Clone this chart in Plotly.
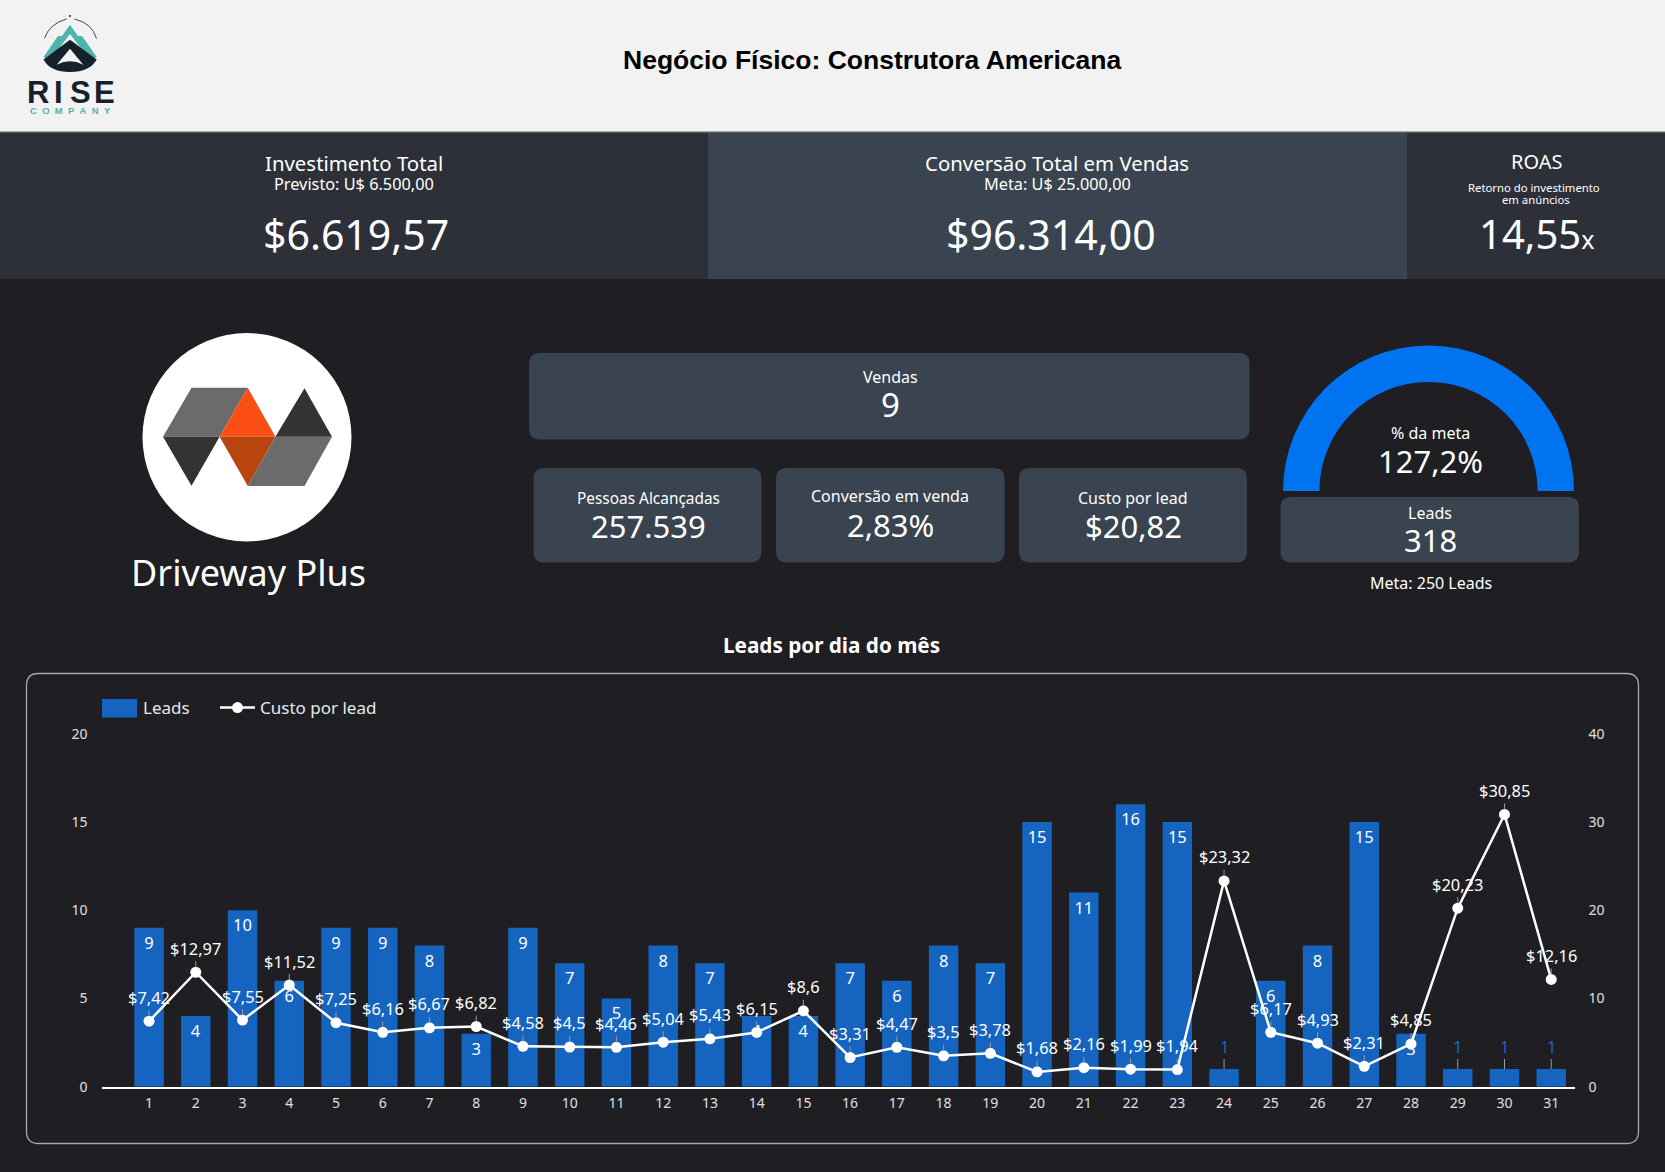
import plotly.graph_objects as go

W = 1665
H = 1172

days = list(range(1, 32))
leads = [9, 4, 10, 6, 9, 9, 8, 3, 9, 7, 5, 8, 7, 4, 4, 7, 6, 8, 7, 15, 11, 16, 15, 1, 6, 8, 15, 3, 1, 1, 1]
cost_per_lead = [7.42, 12.97, 7.55, 11.52, 7.25, 6.16, 6.67, 6.82, 4.58, 4.5, 4.46, 5.04, 5.43, 6.15, 8.6, 3.31,
                 4.47, 3.5, 3.78, 1.68, 2.16, 1.99, 1.94, 23.32, 6.17, 4.93, 2.31, 4.85, 20.23, 30.85, 12.16]
left_ticks = [0, 5, 10, 15, 20]
right_ticks = [0, 10, 20, 30, 40]
meta_pct = 127.2

BG = "#1e1e23"
PANEL_DARK = "#2d3039"
PANEL = "#3a4350"
BAR = "#1565c0"
FONT = "Noto Sans"


def px(x):
    return x / W


def py(y):
    return 1 - y / H


def rect(x0, y0, x1, y1, color):
    return dict(type="rect", xref="paper", yref="paper", x0=px(x0), x1=px(x1), y0=py(y0), y1=py(y1),
                fillcolor=color, line_width=0, layer="below")


def path(d, fill=None, line=None, width=0):
    # d is a list of (command, x, y, ...) in page pixels
    parts = []
    for seg in d:
        nums = seg[1:]
        coords = [f"{px(n) if i % 2 == 0 else py(n):.5f}" for i, n in enumerate(nums)]
        pairs = [coords[i] + "," + coords[i + 1] for i in range(0, len(coords), 2)]
        parts.append(seg[0] + " ".join(pairs))
    return dict(type="path", xref="paper", yref="paper", path=" ".join(parts), fillcolor=fill,
                line=dict(color=line, width=width), layer="below")


def poly(points, color):
    d = [("M",) + points[0]] + [("L",) + p for p in points[1:]] + [("Z",)]
    return path(d, fill=color, line=color, width=0)


def round_rect(x0, y0, x1, y1, r, fill=None, line=None, width=0):
    d = [("M", x0 + r, y0), ("L", x1 - r, y0), ("Q", x1, y0, x1, y0 + r), ("L", x1, y1 - r),
         ("Q", x1, y1, x1 - r, y1), ("L", x0 + r, y1), ("Q", x0, y1, x0, y1 - r), ("L", x0, y0 + r),
         ("Q", x0, y0, x0 + r, y0), ("Z",)]
    return path(d, fill=fill, line=line, width=width)


def label(x, y, text, size, color="#ffffff", family=FONT, bold=False):
    if bold:
        text = f"<b>{text}</b>"
    return dict(xref="paper", yref="paper", x=px(x), y=py(y), text=text, showarrow=False, xanchor="center",
                yanchor="middle", font=dict(family=family, size=size, color=color))


fig = go.Figure()

fig.add_trace(go.Bar(
    x=days, y=leads, name="Leads", width=0.63, marker=dict(color=BAR, line_width=0), legendwidth=67,
    text=[str(v) if v > 1 else "" for v in leads],
    textposition="inside", insidetextanchor="end", textangle=0,
    textfont=dict(family=FONT, size=16.5, color="#ffffff"),
    hoverinfo="skip",
))
fig.add_trace(go.Scatter(
    x=days, y=cost_per_lead, name="Custo por lead", yaxis="y2", mode="lines+markers",
    line=dict(color="#ffffff", width=2.5), marker=dict(color="#ffffff", size=11),
    hoverinfo="skip",
))
# meta gauge, full arc because the value is past 100%
fig.add_trace(go.Indicator(
    mode="gauge", value=meta_pct,
    domain=dict(x=[px(1283), px(1574)], y=[py(491), py(345.5)]),
    gauge=dict(axis=dict(range=[0, 100], visible=False), bar=dict(color="#0073f0", thickness=1, line_width=0),
               bgcolor="rgba(0,0,0,0)", borderwidth=0),
))

shapes = [
    rect(0, 0, W, 132, "#f2f2f2"),
    rect(0, 132, 708, 279, PANEL_DARK),
    rect(708, 132, 1407, 279, PANEL),
    rect(1407, 132, W, 279, PANEL_DARK),
    rect(0, 131.5, W, 133, "#565a63"),
    round_rect(529, 353, 1249.5, 439.5, 11, fill=PANEL),
    round_rect(533.5, 468, 761.5, 562.5, 11, fill=PANEL),
    round_rect(776, 468, 1004.5, 562.5, 11, fill=PANEL),
    round_rect(1019, 468, 1247, 562.5, 11, fill=PANEL),
    round_rect(1280.5, 497, 1579, 562.5, 11, fill=PANEL),
    round_rect(26.5, 673.5, 1638.5, 1143.5, 12, line="#a8a8aa", width=1.3),
    # legend swatch, the native one is too small
    dict(type="rect", xref="paper", yref="paper", x0=px(102), x1=px(137), y0=py(699), y1=py(717.5),
         fillcolor=BAR, line_width=0, layer="above"),
    # Driveway Plus logo
    dict(type="circle", xref="paper", yref="paper", x0=px(142.5), x1=px(351.5), y0=py(333), y1=py(541.5),
         fillcolor="#ffffff", line_width=0, layer="below"),
    poly([(191.5, 387.7), (247.8, 387.7), (219.6, 436.7), (163, 436.7)], "#6b6b6b"),
    poly([(247.8, 387.7), (275.4, 436.7), (219.6, 436.7)], "#fb4f14"),
    poly([(219.6, 436.7), (275.4, 436.7), (247.8, 486)], "#b8440f"),
    poly([(275.4, 436.7), (332, 436.7), (304.5, 486), (247.8, 486)], "#6b6b6b"),
    poly([(304.5, 388.3), (332, 436.7), (275.4, 436.7)], "#333333"),
    poly([(163, 436.7), (219.6, 436.7), (191.5, 485.7)], "#333333"),
    # Rise logo
    poly([(70, 24.7), (78, 36), (82, 36), (96.7, 57), (90, 60), (70, 34), (50, 60), (43.5, 57), (58, 36), (62, 36)],
         "#4fb3ae"),
    path([("M", 70, 39.7), ("L", 96.7, 59.5), ("Q", 90, 72, 70, 72), ("Q", 50, 72, 43.5, 59.5), ("Z",)],
         fill="#17212b", line="#17212b"),
    path([("M", 70, 48.7), ("L", 83.3, 64.7), ("Q", 70, 58, 56.7, 64.7), ("Z",)], fill="#f2f2f2", line="#f2f2f2"),
    path([("M", 44.5, 38.5), ("Q", 49, 24, 66.5, 19)], line="#444444", width=1),
    path([("M", 74.5, 19), ("Q", 92, 23, 96.5, 38.5)], line="#444444", width=1),
    dict(type="circle", xref="paper", yref="paper", x0=px(69), x1=px(71), y0=py(15), y1=py(17),
         fillcolor="#17212b", line_width=0, layer="below"),
]

annotations = [
    label(872, 60, "Negócio Físico: Construtora Americana", 26.5, "#000000", "Liberation Sans", True),
    label(38.3, 92.5, "R", 31, "#17212b", "Liberation Sans", True),
    label(59, 92.5, "I", 31, "#17212b", "Liberation Sans", True),
    label(80.7, 92.5, "S", 31, "#17212b", "Liberation Sans", True),
    label(104.3, 92.5, "E", 31, "#17212b", "Liberation Sans", True),
    label(70.5, 110.5, "C\u00a0\u00a0O\u00a0\u00a0M\u00a0\u00a0P\u00a0\u00a0A\u00a0\u00a0N\u00a0\u00a0Y", 9.5,
          "#4fb3ae", "Liberation Sans", True),
    label(353.5, 163, "Investimento Total", 20.4),
    label(353.5, 184, "Previsto: U$ 6.500,00", 16.3),
    label(355.5, 234, "$6.619,57", 41),
    label(1057, 163, "Conversão Total em Vendas", 20.4),
    label(1057.5, 184, "Meta: U$ 25.000,00", 16.3),
    label(1051, 234, "$96.314,00", 41),
    label(1536, 162, "ROAS", 20),
    label(1534, 188, "Retorno do investimento", 11.3),
    label(1535.5, 200, "em anúncios", 11.3),
    label(1536, 234, '14,55<span style="font-size:25px">x</span>', 40),
    label(248.5, 572.5, "Driveway Plus", 36),
    label(890.5, 377, "Vendas", 16),
    label(890.5, 404.5, "9", 33),
    label(648, 498, "Pessoas Alcançadas", 15.4),
    label(648, 526, "257.539", 31),
    label(890, 496, "Conversão em venda", 16),
    label(890, 524.5, "2,83%", 31),
    label(1133, 498, "Custo por lead", 16),
    label(1133, 525.5, "$20,82", 31),
    label(1430, 433, "% da meta", 16),
    label(1430, 461, "127,2%", 31),
    label(1430, 512.5, "Leads", 16),
    label(1430, 540, "318", 31),
    label(1431, 583, "Meta: 250 Leads", 16),
    label(831.5, 645.5, "Leads por dia do mês", 20.7, bold=True),
]

# point labels with the small leader line up to the text
for day, cost in zip(days, cost_per_lead):
    annotations.append(dict(
        x=day, y=cost, xref="x", yref="y2", text="$" + f"{cost:g}".replace(".", ","),
        showarrow=True, arrowhead=0, arrowwidth=1, arrowcolor="#9a9a9a", ax=0, ay=-24, standoff=5,
        font=dict(family=FONT, size=16.4, color="#ffffff"),
    ))
for day, lead in zip(days, leads):
    if lead == 1:
        annotations.append(dict(
            x=day, y=lead, xref="x", yref="y", text=str(lead),
            showarrow=True, arrowhead=0, arrowwidth=1, arrowcolor="#9a9a9a", ax=0, ay=-23,
            font=dict(family=FONT, size=16.5, color=BAR),
        ))

fig.update_layout(
    width=W, height=H, margin=dict(l=0, r=0, t=0, b=0, autoexpand=False),
    paper_bgcolor=BG, plot_bgcolor="rgba(0,0,0,0)",
    font=dict(family=FONT, color="#ffffff"),
    shapes=shapes, annotations=annotations, bargap=0.37,
    legend=dict(orientation="h", x=px(98), y=py(708), xanchor="left", yanchor="middle", itemwidth=35,
                bgcolor="rgba(0,0,0,0)", font=dict(family=FONT, size=17, color="#e8e8e8")),
    xaxis=dict(domain=[px(102.3), px(1574.6)], range=[0, 31.5], tickmode="array", tickvals=days,
               ticktext=[str(d) for d in days], showgrid=False, zeroline=False, showline=True,
               linecolor="#ffffff", linewidth=1.5, ticks="outside", ticklen=3, tickcolor="rgba(0,0,0,0)",
               tickfont=dict(family=FONT, size=14, color="#e0e0e0")),
    yaxis=dict(domain=[py(1086.7), py(733.7)], range=[0, 20], tickmode="array", tickvals=left_ticks, showgrid=False,
               zeroline=False, showline=False, ticks="outside", ticklen=11, tickcolor="rgba(0,0,0,0)",
               tickfont=dict(family=FONT, size=14, color="#e0e0e0")),
    yaxis2=dict(range=[0, 40], overlaying="y", side="right", anchor="x", tickmode="array", tickvals=right_ticks,
                showgrid=False, zeroline=False, showline=False, ticks="outside", ticklen=10,
                tickcolor="rgba(0,0,0,0)", tickfont=dict(family=FONT, size=14, color="#e0e0e0")),
)

fig.write_html("out.html", config=dict(displayModeBar=False),
               post_script="document.body.style.margin='0';document.body.style.overflow='hidden';")
